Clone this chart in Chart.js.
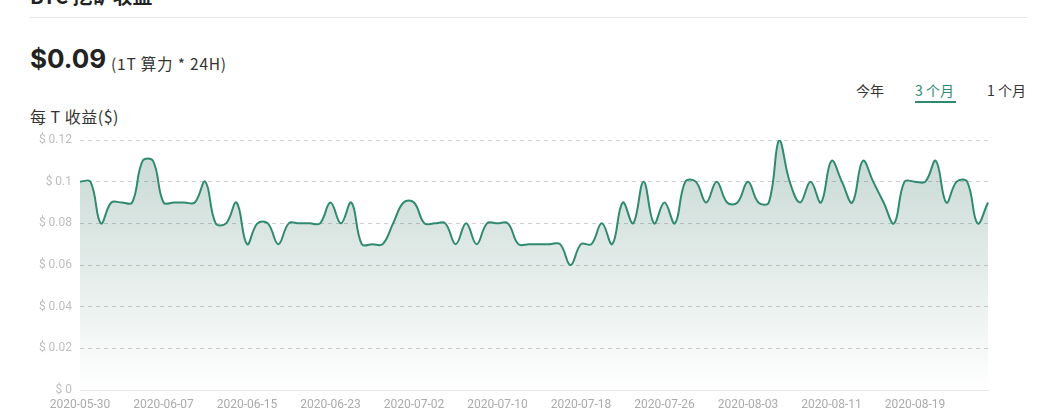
<!DOCTYPE html>
<html>
<head>
<meta charset="utf-8">
<script src="https://cdn.jsdelivr.net/npm/chart.js@4.4.0/dist/chart.umd.min.js"></script>
<style>
  html, body { margin: 0; padding: 0; background: #fff; width: 1044px; height: 413px; overflow: hidden;
    font-family: "Noto Sans CJK SC", "Noto Sans", sans-serif; }
  .abs { position: absolute; white-space: nowrap; }
  #wrap { position: absolute; left: 0; top: 0; width: 1044px; height: 413px; }
</style>
</head>
<body>
<div class="abs" style="left:30px; top:-19px; font-size:20px; font-weight:700; color:#222;">BTC 挖矿收益</div>
<div class="abs" style="left:30px; top:17px; width:997px; height:1px; background:#e6e6e6;"></div>
<div class="abs" style="left:30px; top:42px; font-family:Inter, 'Noto Sans', sans-serif; font-size:26px; font-weight:700; color:#222; line-height:34px;">$0.09</div>
<div class="abs" style="left:111px; top:52px; font-size:15.5px; letter-spacing:0.8px; color:#333; line-height:22px;">(1T 算力 * 24H)</div>
<div class="abs" style="left:856px; top:80px; font-size:14px; color:#333; line-height:20px;">今年</div>
<div class="abs" style="left:915px; top:80px; font-size:14px; color:#2e8b6e; line-height:20px;">3 个月</div>
<div class="abs" style="left:915px; top:101px; width:41px; height:2px; background:#2e8b6e;"></div>
<div class="abs" style="left:987px; top:80px; font-size:14px; color:#333; line-height:20px;">1 个月</div>
<div class="abs" style="left:30px; top:105px; font-size:16px; letter-spacing:0.5px; color:#333; line-height:22px;">每 T 收益($)</div>
<div id="wrap"><canvas id="c" width="1044" height="413"></canvas></div>
<script>
const dates = [
  '2020-05-30','2020-05-31',
  '2020-06-01','2020-06-02','2020-06-03','2020-06-04','2020-06-05','2020-06-06','2020-06-07','2020-06-08',
  '2020-06-09','2020-06-10','2020-06-11','2020-06-12','2020-06-13','2020-06-14','2020-06-15','2020-06-16',
  '2020-06-17','2020-06-18','2020-06-19','2020-06-20','2020-06-21','2020-06-22','2020-06-23','2020-06-24',
  '2020-06-25','2020-06-26','2020-06-28','2020-06-29','2020-06-30',
  '2020-07-01','2020-07-02','2020-07-03','2020-07-04','2020-07-05','2020-07-06','2020-07-07','2020-07-08',
  '2020-07-09','2020-07-10','2020-07-11','2020-07-12','2020-07-13','2020-07-14','2020-07-15','2020-07-16',
  '2020-07-17','2020-07-18','2020-07-19','2020-07-20','2020-07-21','2020-07-22','2020-07-23','2020-07-24',
  '2020-07-25','2020-07-26','2020-07-27','2020-07-28','2020-07-29','2020-07-30','2020-07-31',
  '2020-08-01','2020-08-02','2020-08-03','2020-08-04','2020-08-05','2020-08-06','2020-08-07','2020-08-08',
  '2020-08-09','2020-08-10','2020-08-11','2020-08-12','2020-08-13','2020-08-14','2020-08-15','2020-08-16',
  '2020-08-17','2020-08-18','2020-08-19','2020-08-20','2020-08-21','2020-08-22','2020-08-23','2020-08-24',
  '2020-08-25','2020-08-26'
];
const revenuePerT = [
  0.10,0.10,0.08,0.09,0.09,0.09,0.11,0.11,0.09,0.09,
  0.09,0.09,0.10,0.08,0.08,0.09,0.07,0.08,0.08,0.07,
  0.08,0.08,0.08,0.08,0.09,0.08,0.09,0.07,0.07,0.07,
  0.08,0.09,0.09,0.08,0.08,0.08,0.07,0.08,0.07,0.08,
  0.08,0.08,0.07,0.07,0.07,0.07,0.07,0.06,0.07,0.07,
  0.08,0.07,0.09,0.08,0.10,0.08,0.09,0.08,0.10,0.10,
  0.09,0.10,0.09,0.09,0.10,0.09,0.09,0.12,0.10,0.09,
  0.10,0.09,0.11,0.10,0.09,0.11,0.10,0.09,0.08,0.10,
  0.10,0.10,0.11,0.09,0.10,0.10,0.08,0.09
];
const yTicks = [0, 0.02, 0.04, 0.06, 0.08, 0.10, 0.12];
const labelEvery = 8;

const ctx = document.getElementById('c').getContext('2d');
new Chart(ctx, {
  type: 'line',
  data: {
    labels: dates,
    datasets: [{
      data: revenuePerT,
      borderColor: '#2f8a6f',
      borderWidth: 2,
      tension: 0.4,
      pointRadius: 0,
      pointHoverRadius: 0,
      fill: 'origin',
      backgroundColor: (c) => {
        const a = c.chart.chartArea;
        if (!a) return 'rgba(46,135,105,0.2)';
        const g = c.chart.ctx.createLinearGradient(0, a.top, 0, a.bottom);
        g.addColorStop(0, 'rgba(45,110,92,0.27)');
        g.addColorStop(1, 'rgba(45,110,92,0.0)');
        return g;
      }
    }]
  },
  options: {
    responsive: false,
    animation: false,
    layout: { padding: { left: 30, right: 56, top: 140, bottom: 3 } },
    plugins: { legend: { display: false }, tooltip: { enabled: false } },
    scales: {
      x: {
        afterFit: (s) => { s.height = 20; },
        grid: { display: false, drawTicks: false },
        border: { display: true, color: '#e6e6e6', width: 1 },
        ticks: {
          autoSkip: false, maxRotation: 0, minRotation: 0, padding: 8,
          color: '#ababab', font: { size: 12, family: 'Roboto, "Noto Sans", sans-serif' },
          callback: function(v, i) { return i % labelEvery === 0 ? this.getLabelForValue(v) : null; }
        }
      },
      y: {
        min: 0, max: 0.12,
        afterFit: (s) => { s.width = 50; },
        afterBuildTicks: (s) => { s.ticks = yTicks.map(v => ({ value: v })); },
        border: { display: false, dash: [4, 4] },
        grid: {
          drawTicks: false,
          color: (c) => (c.tick && c.tick.value === 0) ? 'rgba(0,0,0,0)' : '#cfcfcf',
          lineWidth: 1
        },
        ticks: {
          padding: 8, color: '#bdbdbd', font: { size: 12, family: 'Roboto, "Noto Sans", sans-serif' },
          callback: (v) => '$ ' + parseFloat(Number(v).toFixed(4))
        }
      }
    }
  }
});
</script>
</body>
</html>
